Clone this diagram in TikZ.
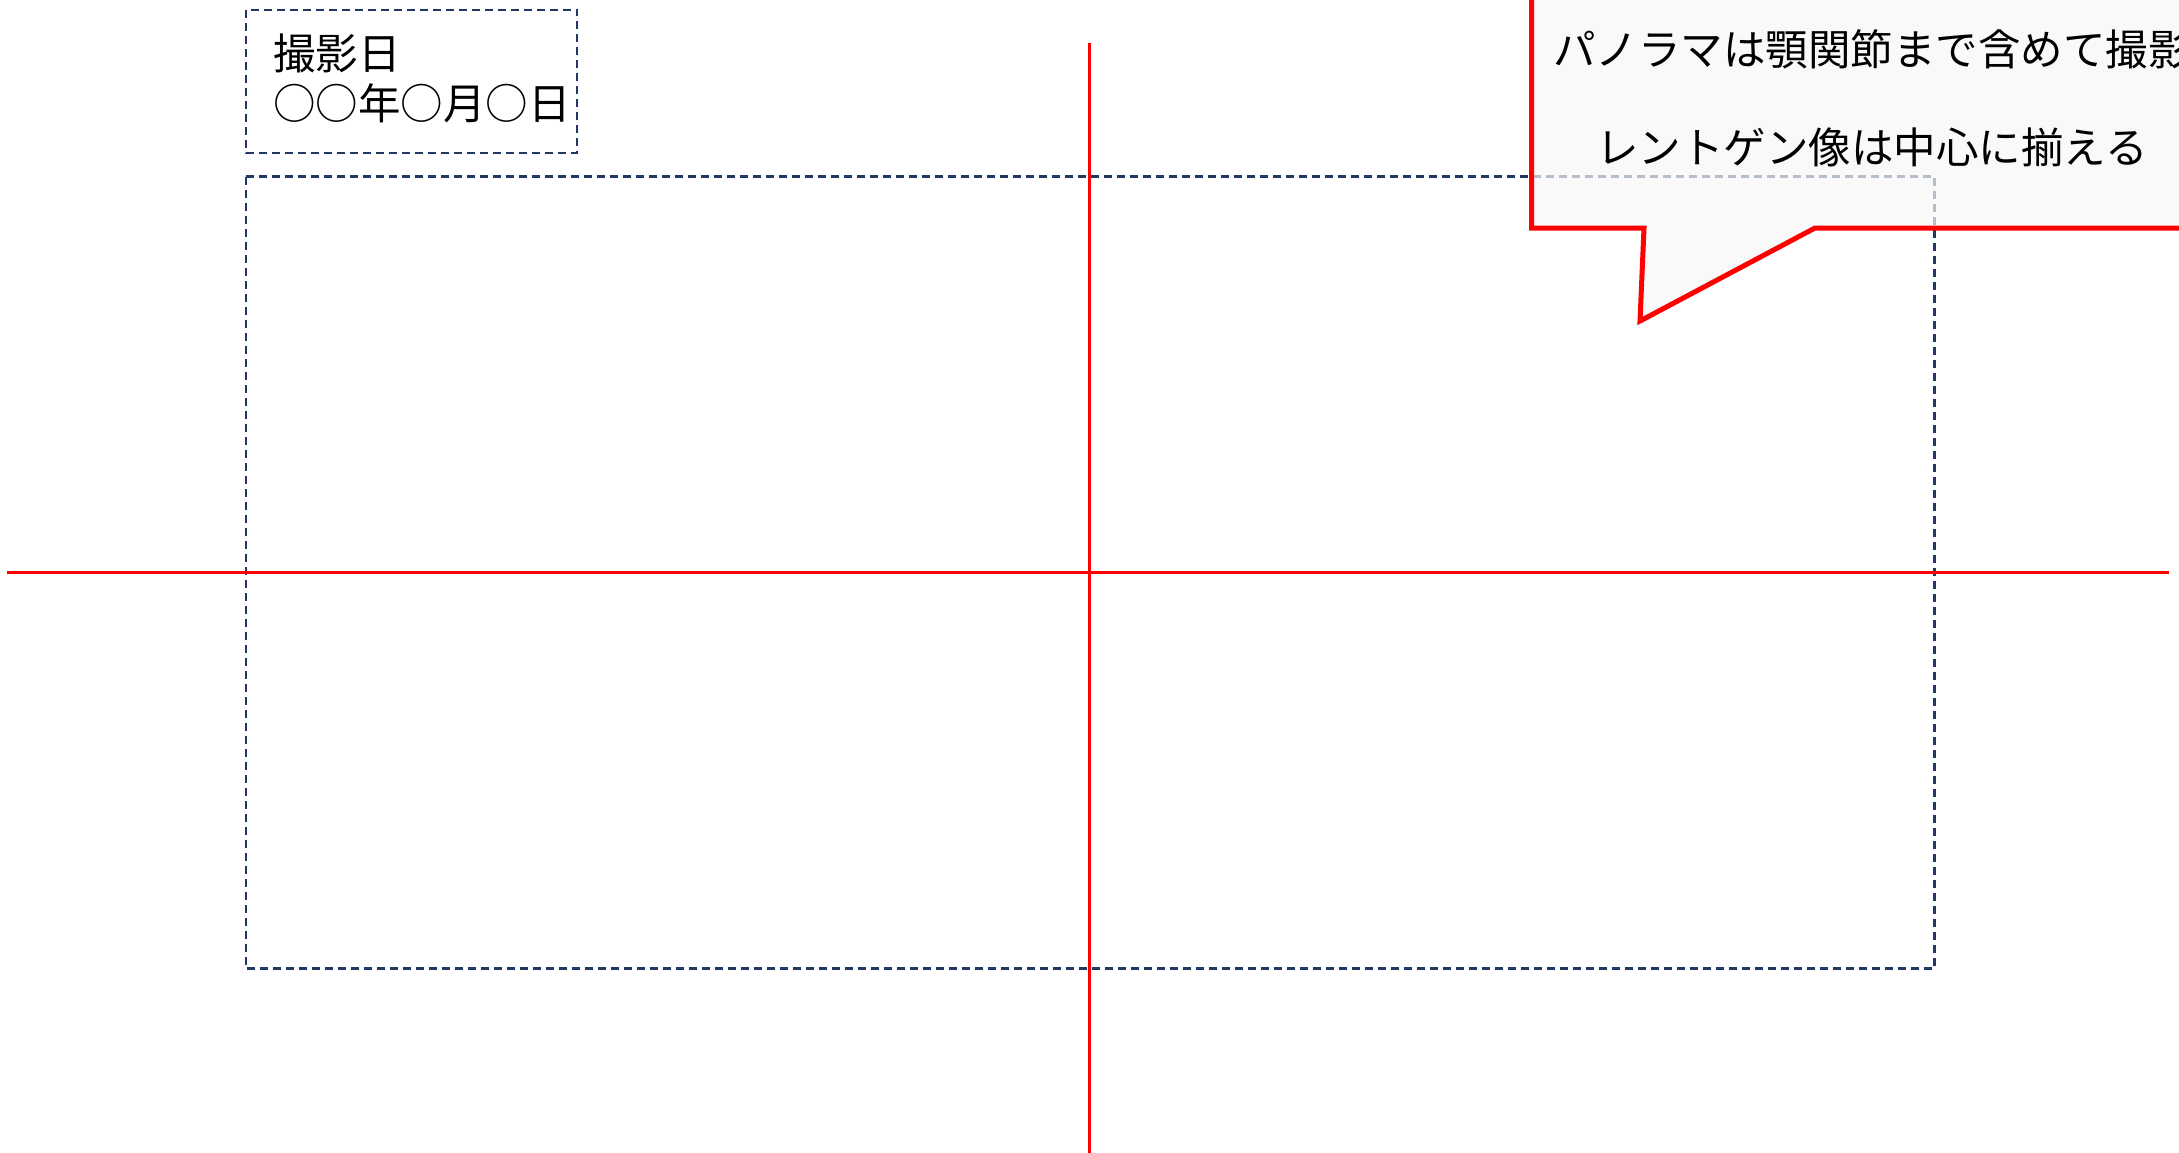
\documentclass[tikz,border=0pt]{standalone}
\usepackage{fontspec}
\setmainfont{Noto Sans CJK JP}
\definecolor{navy}{HTML}{203864}
\definecolor{calloutgray}{HTML}{F7F7F7}
\begin{document}
\begin{tikzpicture}[x=1pt,y=-1pt,
  guide/.style={draw=red, line width=2.7pt},
  framebox/.style={draw=navy, line width=2.3pt, dash pattern=on 8pt off 5pt},
  txt/.style={font=\fontsize{42.5}{50}\selectfont, inner sep=0pt, text=black},
  calloutshape/.style={draw=red, line width=5pt, fill=calloutgray, fill opacity=0.7, line join=miter}]
\clip (0,0) rectangle (2179,1153);
% main dashed frame
\draw[framebox] (246,176.5) rectangle (1934.5,968.6);
% date box
\draw[framebox] (246,9.7) rectangle (577,153);
\node[txt, anchor=west] (d1) at (273,53) {撮影日};
\node[txt, anchor=west] (d2) at (273,103) {○○年○月○日};
% guide lines
\coordinate (vt) at (1089.5,43);
\coordinate (vb) at (1089.5,1153);
\coordinate (hl) at (7,572.6);
\coordinate (hr) at (2169,572.6);
\draw[guide] (vt) -- (vb);
\draw[guide] (hl) -- (hr);
% callout
\coordinate (ctl) at (1531.5,-60);
\coordinate (cbl) at (1531.5,228);
\coordinate (tb1) at (1644,228);
\coordinate (tip) at (1640,321);
\coordinate (tb2) at (1815,228);
\coordinate (cbr) at (2240,228);
\coordinate (ctr) at (2240,-60);
\draw[calloutshape] (ctl) -- (cbl) -- (tb1) -- (tip) -- (tb2) -- (cbr) -- (ctr) -- cycle;
\node[txt] (c1) at (1872,49) {パノラマは顎関節まで含めて撮影};
\node[txt] (c2) at (1872,147) {レントゲン像は中心に揃える};
\end{tikzpicture}
\end{document}
